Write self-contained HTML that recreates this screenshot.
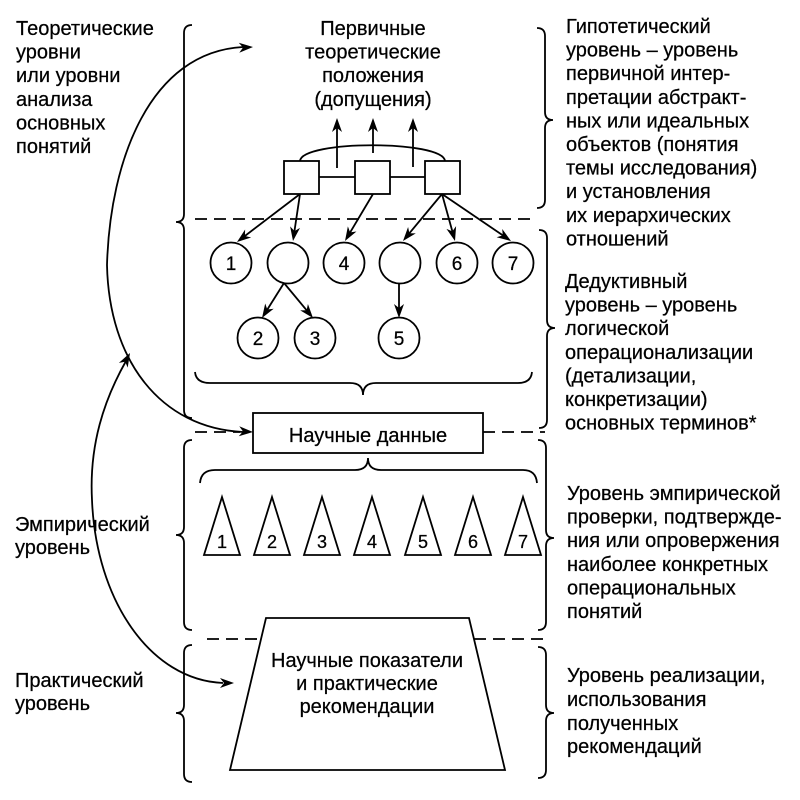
<!DOCTYPE html>
<html><head><meta charset="utf-8"><style>
html,body{margin:0;padding:0;background:#fff;}
svg{display:block;}
text{font-family:"Liberation Sans","Noto Sans CJK SC",sans-serif;fill:#000;stroke:#000;stroke-width:0.25;}
</style></head><body>
<svg width="800" height="800" viewBox="0 0 800 800" xmlns="http://www.w3.org/2000/svg">
<defs>
<polygon id="ah" points="0,0 -14,-5 -10,0 -14,5"/>
</defs>
<g fill="none" stroke="#000" stroke-width="1.8">
<!-- left braces -->
<path d="M 192,25 Q 184,25 184,33 L 184,214 Q 184,222 176,222 Q 184,222 184,230 L 184,410 Q 184,418 192,418"/>
<path d="M 192,440 Q 184,440 184,448 L 184,527 Q 184,535 176,535 Q 184,535 184,543 L 184,622 Q 184,630 192,630"/>
<path d="M 192,645 Q 184,645 184,653 L 184,705 Q 184,713 176,713 Q 184,713 184,721 L 184,774 Q 184,782 192,782"/>
<!-- right braces -->
<path d="M 537,28 Q 545,28 545,36 L 545,112 Q 545,120 553,120 Q 545,120 545,128 L 545,200 Q 545,208 537,208"/>
<path d="M 539,230 Q 547,230 547,238 L 547,320 Q 547,328 555,328 Q 547,328 547,336 L 547,420 Q 547,428 539,428"/>
<path d="M 538,440 Q 546,440 546,448 L 546,530 Q 546,538 554,538 Q 546,538 546,546 L 546,622 Q 546,630 538,630"/>
<path d="M 538,647 Q 546,647 546,655 L 546,705 Q 546,713 554,713 Q 546,713 546,721 L 546,770 Q 546,778 538,778"/>
<!-- horizontal braces -->
<path d="M 195,372 Q 196,383 210,383 L 350,383 Q 363,383 363,395 Q 363,383 376,383 L 518,383 Q 531,383 532,372"/>
<path d="M 200,483 Q 201,470 215,470 L 355,470 Q 368,470 368,458 Q 368,470 381,470 L 523,470 Q 536,470 537,483"/>
<!-- dashed lines -->
<g stroke-dasharray="12 7">
<line x1="195" y1="219" x2="534" y2="219"/>
<line x1="195" y1="432" x2="240" y2="432"/>
<line x1="483" y1="432" x2="545" y2="432"/>
<line x1="207" y1="639" x2="261" y2="639"/>
<line x1="474" y1="639" x2="545" y2="639"/>
</g>
<!-- squares -->
<rect x="284" y="161" width="35" height="33"/>
<rect x="355" y="161" width="35" height="33"/>
<rect x="425" y="161" width="35" height="33"/>
<line x1="319" y1="177" x2="355" y2="177"/>
<line x1="390" y1="177" x2="425" y2="177"/>
<path d="M 300,161 C 302,140 443,140 445,161"/>
<!-- up arrows -->
<line x1="337" y1="168" x2="337" y2="127"/>
<line x1="373" y1="153" x2="373" y2="127"/>
<line x1="413" y1="167" x2="413" y2="127"/>
<!-- square to circle arrows -->
<line x1="300" y1="194" x2="244.2" y2="236.5"/>
<line x1="300" y1="194" x2="294.3" y2="232.1"/>
<line x1="373" y1="194" x2="349.6" y2="233.3"/>
<line x1="442" y1="194" x2="408.7" y2="234.1"/>
<line x1="442" y1="194" x2="452.6" y2="232.3"/>
<line x1="442" y1="194" x2="503.6" y2="235.9"/>
<line x1="284" y1="283" x2="266.8" y2="310.4"/>
<line x1="284" y1="283" x2="307.3" y2="311.1"/>
<line x1="399" y1="283" x2="399" y2="309"/>
<!-- circles -->
<circle cx="231" cy="263" r="20.5"/>
<circle cx="288" cy="263" r="20.5"/>
<circle cx="344" cy="263" r="20.5"/>
<circle cx="400" cy="263" r="20.5"/>
<circle cx="457" cy="263" r="20.5"/>
<circle cx="513" cy="263" r="20.5"/>
<circle cx="258" cy="338" r="20.5"/>
<circle cx="315" cy="338" r="20.5"/>
<circle cx="399" cy="338" r="20.5"/>
<!-- box -->
<rect x="253" y="413" width="230" height="40"/>
<!-- triangles -->
<polygon points="222,497 204,555 240,555"/>
<polygon points="272,497 254,555 290,555"/>
<polygon points="322,497 304,555 340,555"/>
<polygon points="372,497 354,555 390,555"/>
<polygon points="423,497 405,555 441,555"/>
<polygon points="473,497 455,555 491,555"/>
<polygon points="523,497 505,555 541,555"/>
<!-- trapezoid -->
<polygon points="266,618 469,618 505,770 230,770"/>
<!-- big curved arrows -->
<path d="M 243,47 C 150,52 110,160 107,265 C 109,360 160,428 243,432"/>
<path d="M 126,361 C 104,400 89,445 92,500 C 96,600 150,680 223,683"/>
</g>
<g fill="#000" stroke="none">
<!-- arrowheads -->
<use href="#ah" transform="translate(337,118) rotate(-90)"/>
<use href="#ah" transform="translate(373,118) rotate(-90)"/>
<use href="#ah" transform="translate(413,118) rotate(-90)"/>
<use href="#ah" transform="translate(237,242) rotate(142.7)"/>
<use href="#ah" transform="translate(293,241) rotate(98.5)"/>
<use href="#ah" transform="translate(345,241) rotate(120.8)"/>
<use href="#ah" transform="translate(403,241) rotate(129.7)"/>
<use href="#ah" transform="translate(455,241) rotate(74.6)"/>
<use href="#ah" transform="translate(511,241) rotate(34.3)"/>
<use href="#ah" transform="translate(262,318) rotate(122.1)"/>
<use href="#ah" transform="translate(313,318) rotate(50.4)"/>
<use href="#ah" transform="translate(399,318) rotate(90)"/>
<use href="#ah" transform="translate(253,47) rotate(-3)"/>
<use href="#ah" transform="translate(253,432) rotate(3)"/>
<use href="#ah" transform="translate(130,353) rotate(-61.4)"/>
<use href="#ah" transform="translate(234,683) rotate(0)"/>
</g>
<!-- texts -->
<g font-size="20">
<text x="16" y="35">Теоретические</text>
<text x="16" y="58.5">уровни</text>
<text x="16" y="82">или уровни</text>
<text x="16" y="106">анализа</text>
<text x="16" y="129.5">основных</text>
<text x="16" y="153">понятий</text>
<text x="15" y="531">Эмпирический</text>
<text x="15" y="554">уровень</text>
<text x="15" y="687">Практический</text>
<text x="15" y="710">уровень</text>
<g text-anchor="middle">
<text x="373" y="35">Первичные</text>
<text x="373" y="58.5">теоретические</text>
<text x="373" y="82">положения</text>
<text x="373" y="106">(допущения)</text>
<text x="368" y="442">Научные данные</text>
<text x="367" y="667">Научные показатели</text>
<text x="367" y="690">и практические</text>
<text x="367" y="713">рекомендации</text>
</g>
<text x="566" y="33">Гипотетический</text>
<text x="566" y="56.6">уровень – уровень</text>
<text x="566" y="80.2">первичной интер-</text>
<text x="566" y="103.8">претации абстракт-</text>
<text x="566" y="127.4">ных или идеальных</text>
<text x="566" y="151">объектов (понятия</text>
<text x="566" y="174.6">темы исследования)</text>
<text x="566" y="198.2">и установления</text>
<text x="566" y="221.8">их иерархических</text>
<text x="566" y="245.4">отношений</text>
<text x="565" y="288">Дедуктивный</text>
<text x="565" y="311.6">уровень – уровень</text>
<text x="565" y="335.2">логической</text>
<text x="565" y="358.8">операционализации</text>
<text x="565" y="382.4">(детализации,</text>
<text x="565" y="406">конкретизации)</text>
<text x="565" y="429.6">основных терминов*</text>
<text x="567" y="500">Уровень эмпирической</text>
<text x="567" y="523.6">проверки, подтвержде-</text>
<text x="567" y="547.2">ния или опровержения</text>
<text x="567" y="570.8">наиболее конкретных</text>
<text x="567" y="594.4">операциональных</text>
<text x="567" y="618">понятий</text>
<text x="567" y="682">Уровень реализации,</text>
<text x="567" y="706">использования</text>
<text x="567" y="730">полученных</text>
<text x="567" y="753">рекомендаций</text>
</g>
<g font-size="19" text-anchor="middle">
<text x="231" y="270">1</text>
<text x="344" y="270">4</text>
<text x="457" y="270">6</text>
<text x="513" y="270">7</text>
<text x="258" y="345">2</text>
<text x="315" y="345">3</text>
<text x="399" y="345">5</text>
</g>
<g font-size="18" text-anchor="middle">
<text x="222" y="548">1</text>
<text x="272" y="548">2</text>
<text x="322" y="548">3</text>
<text x="372" y="548">4</text>
<text x="423" y="548">5</text>
<text x="473" y="548">6</text>
<text x="523" y="548">7</text>
</g>
</svg>
</body></html>
